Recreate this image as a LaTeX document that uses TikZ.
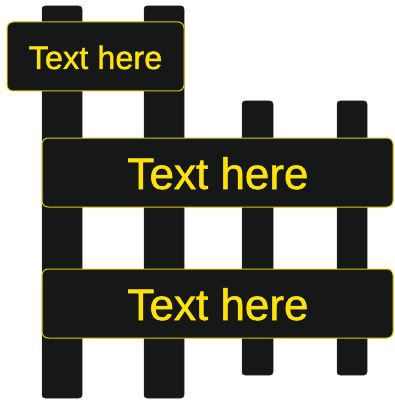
\documentclass[tikz,border=0pt]{standalone}
\usepackage{fontspec}
\setmainfont{Liberation Sans}
\newfontfamily\signfont[FakeBold=1.2]{Liberation Sans}
\definecolor{board}{HTML}{161817}
\definecolor{signtext}{HTML}{FFE20A}
\definecolor{signedge}{HTML}{E6C400}
\begin{document}
\begin{tikzpicture}[x=1pt,y=-1pt,
  post/.style={fill=board,draw=board!80!gray,line width=0.5pt,rounded corners=3pt},
  sign/.style={fill=board,draw=signedge,line width=1pt,rounded corners=6pt},
  signlabel/.style={text=signtext,inner sep=0pt,anchor=base}]
\useasboundingbox (0,0) rectangle (394,401);
% posts
\draw[post] (42,6) rectangle (82,398);
\draw[post] (144,6) rectangle (184,398);
\draw[post] (242,101) rectangle (273,375);
\draw[post] (337,101) rectangle (367,375);
% signs
\draw[sign] (7,22) rectangle (184,91);
\node[signlabel,font=\signfont\fontsize{32.5}{36}\selectfont] (t1) at (95.5,69) {Text here};
\draw[sign] (42,138) rectangle (393,207);
\node[signlabel,font=\signfont\fontsize{44}{48}\selectfont] (t2) at (218,189) {Text here};
\draw[sign] (42,269) rectangle (393,338);
\node[signlabel,font=\signfont\fontsize{44}{48}\selectfont] (t3) at (218,320) {Text here};
\end{tikzpicture}
\end{document}
